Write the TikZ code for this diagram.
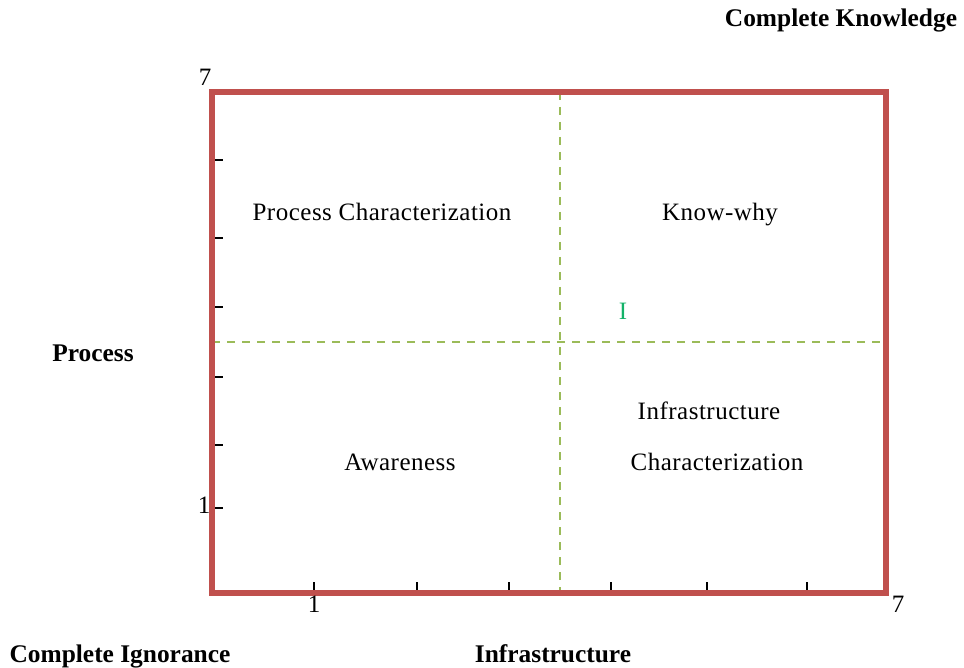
\documentclass[tikz,border=0pt]{standalone}
\usepackage{fontspec}
\setmainfont{Liberation Serif}
\newfontfamily\quadfont[LetterSpace=2]{Liberation Serif}
\definecolor{frameRed}{RGB}{192,80,77}
\definecolor{gridGreen}{RGB}{155,187,89}
\definecolor{markGreen}{RGB}{20,178,105}
\begin{document}
\begin{tikzpicture}[x=0.5pt,y=-0.5pt,
  txt/.style={inner sep=0pt, text height=11pt, text depth=2.6pt,
    font=\fontsize{12.5}{14}\selectfont},
  axislabel/.style={txt, font=\fontsize{12.7}{14}\selectfont\bfseries},
  quadlabel/.style={txt, font=\fontsize{12.5}{14}\selectfont\quadfont},
  tickmark/.style={line width=0.8pt, black},
  grid/.style={gridGreen, line width=0.7pt, dash pattern=on 4pt off 3.5pt},
  frame/.style={frameRed, line width=2.6pt}]
\useasboundingbox (0,0) rectangle (964,668);

% frame corners and grid split points
\coordinate (tl) at (212,92);
\coordinate (br) at (886,593);
\coordinate (vtop) at (560,92);
\coordinate (vbot) at (560,593);
\coordinate (hl) at (212,342);
\coordinate (hr) at (886,342);

% dashed quadrant dividers
\draw[grid] (vtop) -- (vbot);
\draw[grid] (hl) -- (hr);

% tick marks on the vertical axis
\foreach \y in {160,238,307,377,445,508}
  \draw[tickmark] (211,\y) -- (223,\y);
% tick marks on the horizontal axis
\foreach \x in {314,417,509,611,707,807}
  \draw[tickmark] (\x,582) -- (\x,594);

% outer frame
\draw[frame] (tl) rectangle (br);

% scale numbers
\node[txt] (ytop) at (205,77) {7};
\node[txt] (ybot) at (204,505) {1};
\node[txt] (xleft) at (314,604) {1};
\node[txt] (xright) at (898,604) {7};

% axis titles
\node[axislabel] (knowledge) at (841,18) {Complete Knowledge};
\node[axislabel] (process) at (93,353) {Process};
\node[axislabel] (ignorance) at (120,654) {Complete Ignorance};
\node[axislabel] (infra) at (553,654) {Infrastructure};

% quadrant names
\node[quadlabel] (qpc) at (382,212) {Process Characterization};
\node[quadlabel] (qkw) at (720,212) {Know-why};
\node[quadlabel] (qaw) at (400,462) {Awareness};
\node[quadlabel] (qic1) at (709,411) {Infrastructure};
\node[quadlabel] (qic2) at (717,462) {Characterization};

% position marker
\node[txt, text=markGreen] (mark) at (623,311) {I};
\end{tikzpicture}
\end{document}
